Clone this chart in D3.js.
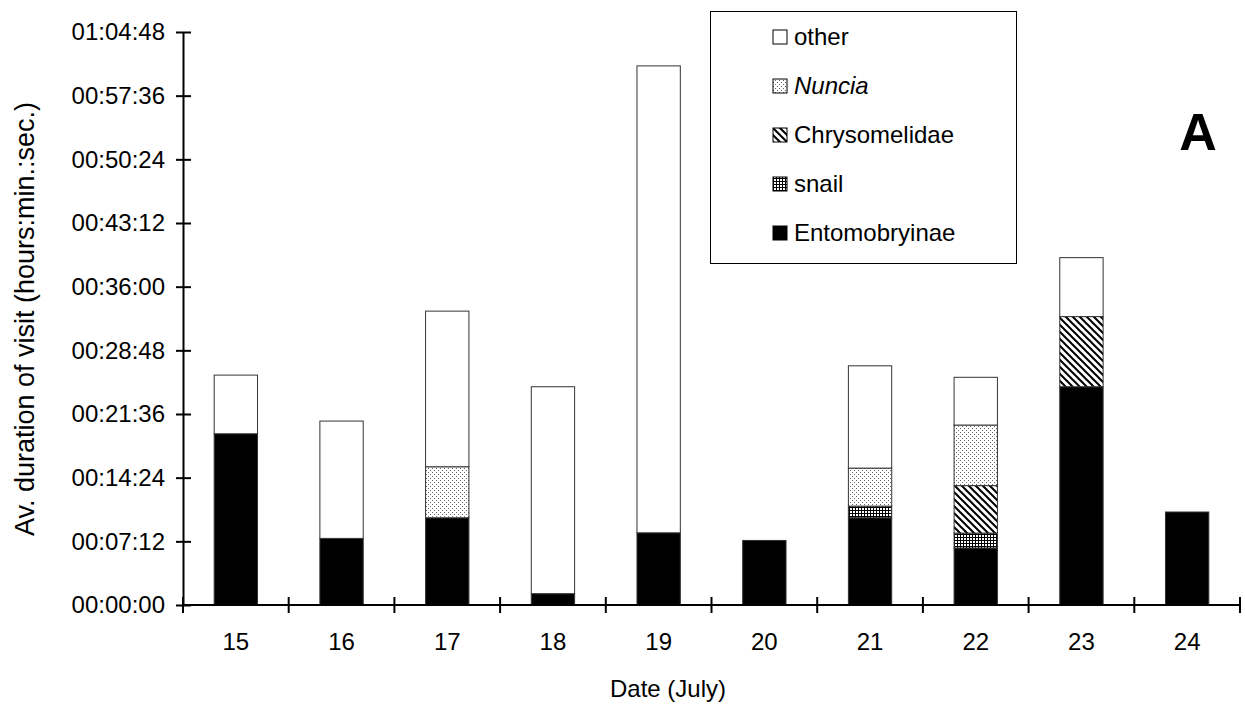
<!DOCTYPE html>
<html>
<head>
<meta charset="utf-8">
<script src="https://cdn.jsdelivr.net/npm/d3@7"></script>
<style>
  body { margin: 0; background: #fff; }
  svg { font-family: "Liberation Sans", Arial, sans-serif; }
</style>
</head>
<body>
<script>
// data, seconds of visit per day
const dates = ["15", "16", "17", "18", "19", "20", "21", "22", "23", "24"];
const entomobryinae = [1162, 452, 592, 77, 490, 438, 592, 387, 1481, 631];
const snail = [0, 0, 0, 0, 0, 0, 79, 101, 0, 0];
const chrysomelidae = [0, 0, 0, 0, 0, 0, 0, 322, 476, 0];
const nuncia = [0, 0, 346, 0, 0, 0, 258, 411, 0, 0];
const other = [398, 796, 1056, 1404, 3168, 0, 694, 324, 400, 0];
const seriesNames = ["Entomobryinae", "snail", "Chrysomelidae", "Nuncia", "other"];
const yTicks = [0, 432, 864, 1296, 1728, 2160, 2592, 3024, 3456, 3888];

const width = 1245, height = 706;
const margin = { left: 183, right: 5, top: 32, bottom: 101 };

const rows = dates.map((d, i) => ({
    date: d,
    Entomobryinae: entomobryinae[i],
    snail: snail[i],
    Chrysomelidae: chrysomelidae[i],
    Nuncia: nuncia[i],
    other: other[i]
}));

const svg = d3.select("body").append("svg")
    .attr("width", width)
    .attr("height", height);

// fill patterns
const defs = svg.append("defs");

const dots = defs.append("pattern")
    .attr("id", "p-nuncia")
    .attr("patternUnits", "userSpaceOnUse")
    .attr("width", 4).attr("height", 4);
dots.append("rect").attr("width", 4).attr("height", 4).attr("fill", "#fff");
dots.append("rect").attr("x", 0).attr("y", 0).attr("width", 1).attr("height", 1).attr("fill", "#666");
dots.append("rect").attr("x", 2).attr("y", 2).attr("width", 1).attr("height", 1).attr("fill", "#666");

const diag = defs.append("pattern")
    .attr("id", "p-chryso")
    .attr("patternUnits", "userSpaceOnUse")
    .attr("width", 7).attr("height", 7);
diag.append("rect").attr("width", 7).attr("height", 7).attr("fill", "#fff");
diag.append("path")
    .attr("d", "M-1,-1L8,8M-2,5L2,9M5,-2L9,2")
    .attr("stroke", "#000")
    .attr("stroke-width", 2);

const grid = defs.append("pattern")
    .attr("id", "p-snail")
    .attr("patternUnits", "userSpaceOnUse")
    .attr("width", 3).attr("height", 3);
grid.append("rect").attr("width", 3).attr("height", 3).attr("fill", "#fff");
grid.append("path")
    .attr("d", "M0.5,0V3M0,0.5H3")
    .attr("stroke", "#000")
    .attr("stroke-width", 1);

const fills = {
    Entomobryinae: "#000",
    snail: "url(#p-snail)",
    Chrysomelidae: "url(#p-chryso)",
    Nuncia: "url(#p-nuncia)",
    other: "#fff"
};

const x_scale = d3.scaleBand()
    .domain(dates)
    .range([margin.left, width - margin.right])
    .paddingInner(0.59)
    .paddingOuter(0.295);

const y_scale = d3.scaleLinear()
    .domain([0, 3888])
    .range([height - margin.bottom, margin.top]);

const stacked = d3.stack().keys(seriesNames)(rows);

// bars
svg.append("g")
    .selectAll("g")
    .data(stacked)
    .join("g")
    .attr("fill", d => fills[d.key])
    .selectAll("rect")
    .data(d => d.filter(s => s[1] - s[0] > 0))
    .join("rect")
    .attr("x", d => x_scale(d.data.date))
    .attr("width", x_scale.bandwidth())
    .attr("y", d => y_scale(d[1]))
    .attr("height", d => y_scale(d[0]) - y_scale(d[1]))
    .attr("stroke", "#333")
    .attr("stroke-width", 1);

function fmtTime(s) {
    const h = Math.floor(s / 3600), m = Math.floor((s % 3600) / 60), sec = s % 60;
    return [h, m, sec].map(v => String(v).padStart(2, "0")).join(":");
}

// y axis
const y_axis = d3.axisLeft(y_scale)
    .tickValues(yTicks)
    .tickFormat(fmtTime)
    .tickSize(7)
    .tickSizeOuter(0)
    .tickPadding(11);

const gy = svg.append("g")
    .attr("transform", `translate(${margin.left},0)`)
    .call(y_axis);
gy.selectAll("text").style("font-size", "24px").attr("fill", "#000");
gy.selectAll("line").attr("x2", 8).attr("x1", -7).attr("stroke", "#000").attr("stroke-width", 2);
gy.select(".domain").attr("stroke", "#000").attr("stroke-width", 2);

// x axis (ticks on category boundaries)
const step = x_scale.step();
const boundaries = d3.range(dates.length + 1).map(i => margin.left + i * step);
const x0 = height - margin.bottom;
const gx = svg.append("g");
gx.append("line")
    .attr("x1", margin.left).attr("x2", width - margin.right)
    .attr("y1", x0).attr("y2", x0)
    .attr("stroke", "#000").attr("stroke-width", 2);
gx.selectAll(".tk")
    .data(boundaries)
    .join("line")
    .attr("class", "tk")
    .attr("x1", d => d).attr("x2", d => d)
    .attr("y1", x0 - 8).attr("y2", x0 + 8)
    .attr("stroke", "#000").attr("stroke-width", 2);
gx.selectAll(".lbl")
    .data(dates)
    .join("text")
    .attr("class", "lbl")
    .attr("x", d => x_scale(d) + x_scale.bandwidth() / 2)
    .attr("y", x0 + 45)
    .attr("text-anchor", "middle")
    .style("font-size", "24px")
    .text(d => d);

// axis titles
svg.append("text")
    .attr("x", 668)
    .attr("y", 697)
    .attr("text-anchor", "middle")
    .style("font-size", "24px")
    .text("Date (July)");

svg.append("text")
    .attr("transform", `translate(34, 319) rotate(-90)`)
    .attr("text-anchor", "middle")
    .style("font-size", "27px")
    .text("Av. duration of visit (hours:min.:sec.)");

// panel letter
svg.append("text")
    .attr("x", 1198)
    .attr("y", 150)
    .attr("text-anchor", "middle")
    .style("font-size", "52px")
    .style("font-weight", "bold")
    .text("A");

// legend
const legend = svg.append("g");
legend.append("rect")
    .attr("x", 710.5).attr("y", 11.5)
    .attr("width", 306).attr("height", 252)
    .attr("fill", "#fff")
    .attr("stroke", "#000")
    .attr("stroke-width", 1);

const legendOrder = ["other", "Nuncia", "Chrysomelidae", "snail", "Entomobryinae"];
const li = legend.selectAll(".li")
    .data(legendOrder)
    .join("g")
    .attr("class", "li")
    .attr("transform", (d, i) => `translate(773, ${37 + i * 49})`);
li.append("rect")
    .attr("x", 0).attr("y", -7)
    .attr("width", 14).attr("height", 14)
    .attr("fill", d => fills[d])
    .attr("stroke", "#000");
li.append("text")
    .attr("x", 21)
    .attr("y", 8)
    .style("font-size", "24px")
    .style("font-style", d => d === "Nuncia" ? "italic" : "normal")
    .text(d => d);
</script>
</body>
</html>
